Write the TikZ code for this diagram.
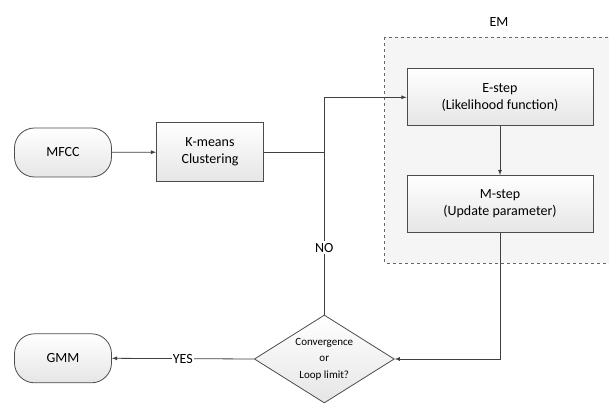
\documentclass[tikz,border=0pt]{standalone}
\usepackage{fontspec}
\setmainfont{Carlito}
\usetikzlibrary{arrows,shapes.geometric}

\tikzset{
  flowline/.style={draw=black!75,line width=0.8pt},
  procbox/.style={draw=black!70,line width=0.8pt,top color=white,bottom color=black!10,
    minimum width=107pt,minimum height=59pt,align=center,font=\fontsize{14}{17}\selectfont},
  termbox/.style={draw=black!70,line width=0.8pt,top color=white,bottom color=black!10,
    rounded corners=20pt,minimum width=97pt,minimum height=49pt,font=\fontsize{14}{17}\selectfont},
  decbox/.style={diamond,draw=black!70,line width=0.8pt,top color=white,bottom color=black!10,
    aspect=1.6,inner sep=0pt,minimum width=140pt,minimum height=88pt,align=center,
    font=\fontsize{11}{16.5}\selectfont}
}

\begin{document}
\begin{tikzpicture}[x=1pt,y=-1pt]
  \useasboundingbox (0,0) rectangle (609,403);
  % EM region
  \draw[black!60,dashed,line width=0.8pt,fill=black!4] (384.5,37.3) rectangle (615,263.3);
  \node (emlabel) at (499,21.7) {\fontsize{14}{16}\selectfont EM};
  % nodes
  \node[termbox] (mfcc) at (63,152.5) {MFCC};
  \node[procbox] (kmeans) at (210,152) {K-means\\Clustering};
  \node[procbox,minimum width=186pt,minimum height=57pt] (estep) at (500,97.3)
    {E-step\\(Likelihood function)};
  \node[procbox,minimum width=186pt,minimum height=57pt] (mstep) at (500,204)
    {M-step\\(Update parameter)};
  \node[decbox] (check) at (324.3,359) {Convergence\\or\\Loop limit?};
  \node[termbox] (gmm) at (63,358.3) {GMM};
  % connectors
  \draw[flowline,-latex] (mfcc) -- (kmeans);
  \draw[flowline] (kmeans.east) -- (kmeans.east -| check.north);
  \draw[flowline,-latex] (check.north) |- node[pos=0.154,fill=white,inner sep=2pt,
    font=\fontsize{14}{16}\selectfont] {NO} (estep.west);
  \draw[flowline,-latex] (estep) -- (mstep);
  \draw[flowline,-latex] (mstep.south) |- (check.east);
  \draw[flowline,-latex] (check.west) -- node[fill=white,inner sep=1pt,
    font=\fontsize{14}{16}\selectfont] {YES} (gmm.east);
\end{tikzpicture}
\end{document}
